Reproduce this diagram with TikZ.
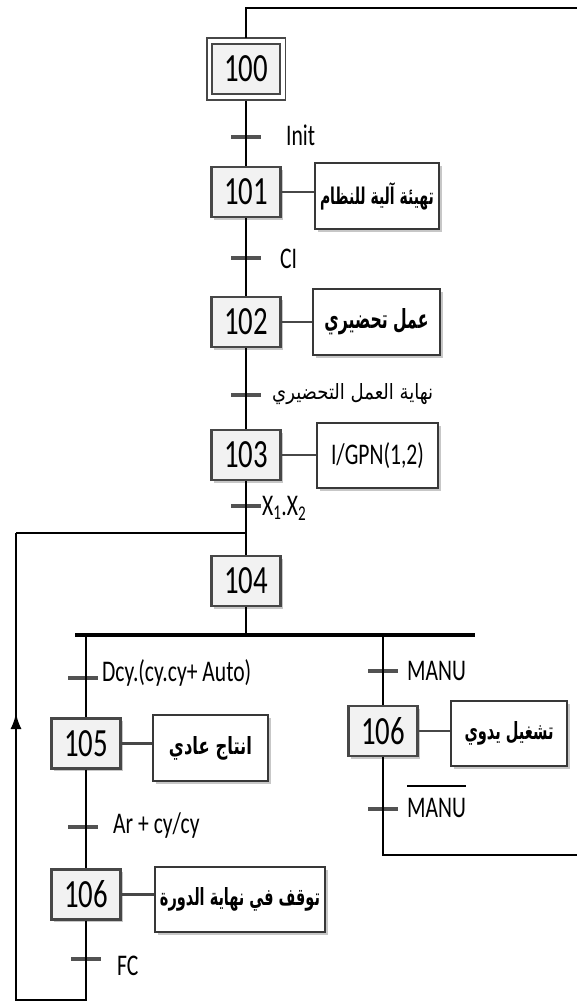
\documentclass[tikz,border=0pt]{standalone}
\usepackage{fontspec}
\setmainfont{Carlito}
\newfontfamily\arabicfont[Script=Arabic]{DejaVu Sans}
\TeXXeTstate=1
\usepackage{graphicx}
\usetikzlibrary{shadows,arrows.meta}
\newcommand{\sq}[1]{\scalebox{0.72}[1]{#1}}
\newcommand{\stepnum}[1]{\fontsize{40}{44}\selectfont\sq{#1}}
\newcommand{\lbl}[1]{\fontsize{30}{34}\selectfont\sq{#1}}
\newcommand{\artxt}[3]{\resizebox{#1}{#2}{\arabicfont\bfseries #3}}
\newcommand{\artxtn}[3]{\resizebox{#1}{#2}{\arabicfont #3}}
\tikzset{
  flow/.style={line width=2.3pt, draw=black},
  divline/.style={line width=3.4pt, draw=black},
  tick/.style={line width=3.2pt, draw=black!68},
  link/.style={line width=2.4pt, draw=black!72},
  shade/.style={drop shadow={shadow xshift=2.5pt, shadow yshift=-2.5pt, fill=black!22, opacity=1}},
  stepbox/.style={draw=black!72, line width=2.2pt, fill=black!5, minimum width=69pt,
    minimum height=50pt, inner sep=0pt, shade},
  actbox/.style={draw=black!78, line width=2.2pt, fill=white, inner sep=0pt, shade},
  lab/.style={anchor=base west, inner sep=0pt}
}
\begin{document}
\begin{tikzpicture}[x=1pt, y=-1pt]
\useasboundingbox (0,0) rectangle (577,1005);

% steps
\node[stepbox, double, double distance=3.5pt, line width=1.9pt, outer sep=3.5pt,
      minimum width=73.5pt, minimum height=56pt] (s100) at (246,69) {\stepnum{100}};
\node[stepbox] (s101) at (246,192) {\stepnum{101}};
\node[stepbox] (s102) at (246,322) {\stepnum{102}};
\node[stepbox] (s103) at (246,455) {\stepnum{103}};
\node[stepbox] (s104) at (246,581) {\stepnum{104}};
\node[stepbox] (s105) at (86,743.5) {\stepnum{105}};
\node[stepbox] (s106a) at (86,894.5) {\stepnum{106}};
\node[stepbox] (s106b) at (383,731) {\stepnum{106}};

% actions
\node[actbox, minimum width=124pt, minimum height=66pt] (a101) at (377,196)
  {\artxt{114pt}{22pt}{\beginR تهيئة آلية للنظام\endR}};
\node[actbox, minimum width=127pt, minimum height=66pt] (a102) at (376.5,322)
  {\artxt{104pt}{20pt}{\beginR عمل تحضيري\endR}};
\node[actbox, minimum width=121pt, minimum height=65pt] (a103) at (377.5,455.5)
  {\lbl{I/GPN(1,2)}};
\node[actbox, minimum width=115pt, minimum height=66pt] (a105) at (210.5,748)
  {\artxt{83pt}{18pt}{\beginR انتاج عادي\endR}};
\node[actbox, minimum width=116pt, minimum height=65pt] (a106b) at (509,733.5)
  {\artxt{89pt}{18pt}{\beginR تشغيل يدوي\endR}};
\node[actbox, minimum width=170pt, minimum height=65pt] (a106a) at (240,899.5)
  {\artxt{160pt}{18pt}{\beginR توقف في نهاية الدورة\endR}};

% action links
\draw[link] (s101.east) -- (s101.east -| a101.west);
\draw[link] (s102.east) -- (s102.east -| a102.west);
\draw[link] (s103.east) -- (s103.east -| a103.west);
\draw[link] (s105.east) -- (s105.east -| a105.west);
\draw[link] (s106a.east) -- (s106a.east -| a106a.west);
\draw[link] (s106b.east) -- (s106b.east -| a106b.west);

% transition ticks
\coordinate (t1) at (246,137);
\coordinate (t2) at (246,258);
\coordinate (t3) at (246,395);
\coordinate (t4) at (246,506);
\coordinate (t5) at (83,678);
\coordinate (t6) at (383,671);
\coordinate (t7) at (383,809);
\coordinate (t8) at (83,827);
\coordinate (t9) at (86,959);
\foreach \t in {t1,t2,t3,t4,t5,t6,t7,t8,t9}
  \draw[tick] ([xshift=-15pt]\t) -- ([xshift=15pt]\t);

% transition labels
\node[lab] (l1) at (286,145) {\lbl{Init}};
\node[lab] (l2) at (280,268) {\lbl{CI}};
\node[lab] (l3) at (272,399) {\artxtn{161pt}{16pt}{\beginR نهاية العمل التحضيري\endR}};
\node[lab] (l4) at (262,515) {\lbl{X\textsubscript{1}.X\textsubscript{2}}};
\node[lab] (l5) at (102,681) {\lbl{Dcy.(cy.cy+ Auto)}};
\node[lab] (l6) at (407,680) {\lbl{MANU}};
\node[lab] (l7) at (407,817) {\lbl{MANU}};
\draw[line width=2pt] ([yshift=12pt]l7.north west) -- ([yshift=12pt]l7.north east);
\node[lab] (l8) at (113,833) {\lbl{Ar + cy/cy}};
\node[lab] (l9) at (117,975) {\lbl{FC}};

% coordinates for connectors
\coordinate (top0) at (246,8);
\coordinate (topR) at (577,8);
\coordinate (j) at (246,533);
\coordinate (jL) at (16,533);
\coordinate (bl) at (16,1000);
\coordinate (bb) at (86,1000);
\coordinate (arr) at (16,713);
\coordinate (dL) at (75,635);
\coordinate (dR) at (475,635);
\coordinate (d0) at (246,635);
\coordinate (dl) at (86,635);
\coordinate (dr) at (383,635);
\coordinate (br) at (383,855);
\coordinate (brR) at (577,855);

% flow lines
\draw[flow] (s100.north) -- (top0) -- (topR);
\draw[flow] (s100.south) -- (s101.north);
\draw[flow] (s101.south) -- (s102.north);
\draw[flow] (s102.south) -- (s103.north);
\draw[flow] (s103.south) -- (s104.north);
\draw[flow] (jL) -- (j);
\draw[flow] (s104.south) -- (d0);
\draw[divline] (dL) -- (dR);
\draw[flow] (dl) -- (s105.north);
\draw[flow] (s105.south) -- (s106a.north);
\draw[flow] (s106a.south) -- (bb) -- (bl) -- (jL);
\draw[flow, -{Latex[length=16pt,width=11pt]}] (bl) -- (arr);
\draw[flow] (dr) -- (s106b.north);
\draw[flow] (s106b.south) -- (br) -- (brR);
\end{tikzpicture}
\end{document}
